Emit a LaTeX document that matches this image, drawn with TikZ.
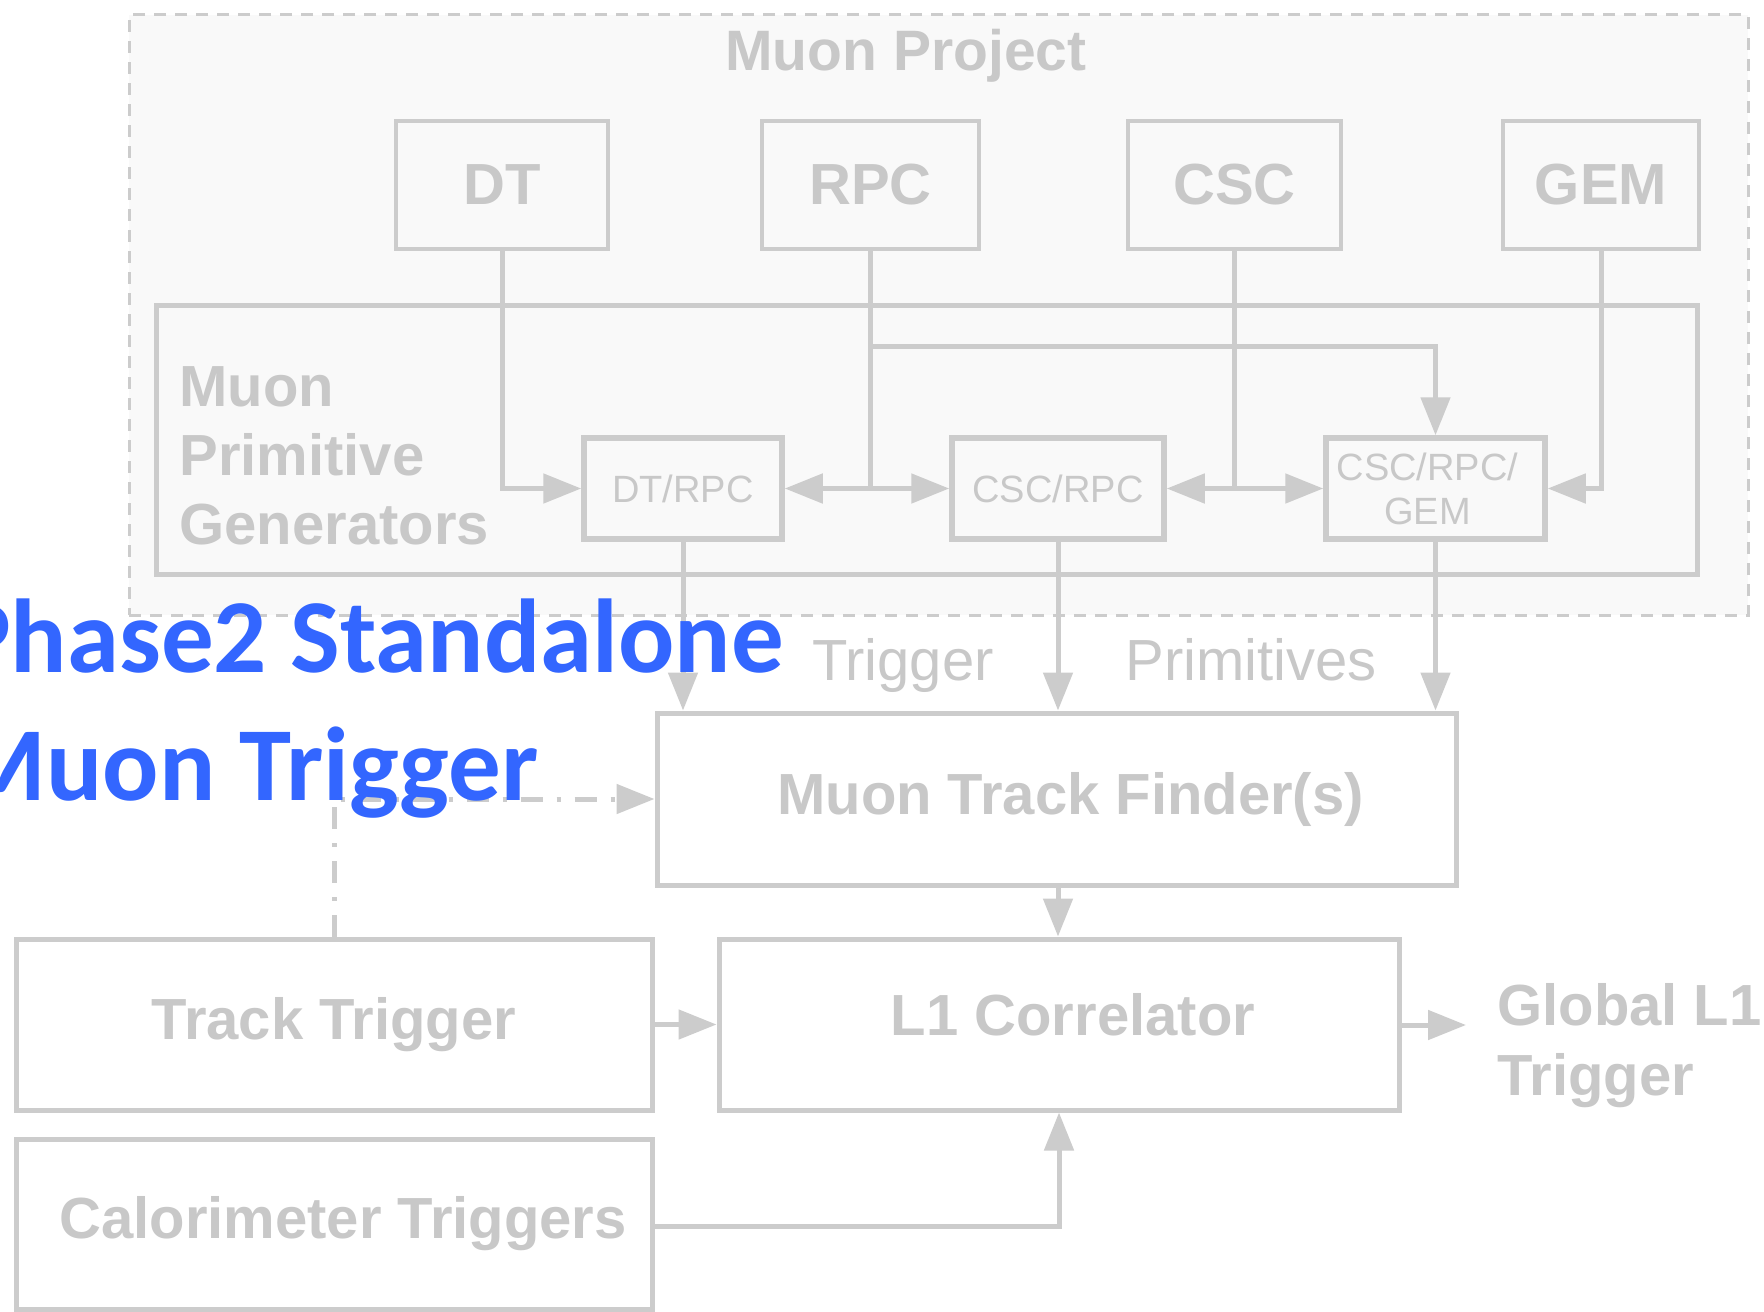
\documentclass[tikz,border=0pt]{standalone}
\usepackage{fontspec}
\setmainfont{Liberation Sans}
\newfontfamily\bluefont{Carlito}
\usetikzlibrary{arrows.meta,calc}
\definecolor{linec}{RGB}{204,204,204}
\definecolor{textc}{RGB}{200,200,200}
\definecolor{projfill}{RGB}{249,249,249}
\definecolor{titleblue}{RGB}{51,102,255}
\begin{document}
\begin{tikzpicture}[x=0.5pt,y=-0.5pt,
 box/.style={draw=linec, line width=2.5pt, inner sep=0pt, text=textc, font=\fontsize{29}{34}\selectfont\bfseries},
 topbox/.style={box, line width=1.75pt, fill=projfill, minimum height=64pt},
 smallbox/.style={box, line width=2.75pt, fill=projfill, minimum height=50.5pt, font=\fontsize{19}{22}\selectfont, align=center},
 conn/.style={draw=linec, line width=2.5pt},
 arr/.style={conn, -{Triangle[length=19pt,width=14.5pt]}},
 lbl/.style={text=textc, inner sep=0pt, font=\fontsize{29}{35}\selectfont\bfseries},
 bluetxt/.style={text=titleblue, inner sep=0pt, font=\bluefont\fontsize{52.5}{62}\selectfont\bfseries}
]
\useasboundingbox[fill=white] (0,0) rectangle (1764,1311);

% Muon project container
\node[draw=linec, line width=1.5pt, dash pattern=on 6pt off 4.5pt, fill=projfill,
      minimum width=809.5pt, minimum height=300pt, inner sep=0pt] (proj) at (938.5,315) {};
\node[lbl, font=\fontsize{28.5}{34}\selectfont\bfseries, anchor=base] (ptitle) at (906,71) {Muon Project};

% detectors
\node[topbox, minimum width=106pt] (dt) at (502,185) {DT};
\node[topbox, minimum width=108.5pt] (rpc) at (870.5,185) {RPC};
\node[topbox, minimum width=106.5pt] (csc) at (1234.5,185) {CSC};
\node[topbox, minimum width=98pt] (gem) at (1601,185) {GEM};

% primitive generators
\node[box, fill=projfill, minimum width=770.5pt, minimum height=134.5pt] (pg) at (926.5,439.5) {};
\node[lbl, font=\fontsize{29}{34.5}\selectfont\bfseries, anchor=base west, align=left] (pgtext) at (179,544) {Muon\\Primitive\\Generators};

\node[smallbox, minimum width=99pt] (dtrpc) at (683,488.5) {DT/RPC};
\node[smallbox, minimum width=106pt] (cscrpc) at (1058,488.5) {CSC/RPC};
\node[smallbox, minimum width=109.5pt] (crg) at (1435.5,488.5) {CSC/RPC/\hspace*{8pt}\\GEM\hspace*{8pt}};

\coordinate (rpcj) at (rpc.south |- dtrpc.west);
\coordinate (rpcb) at ($(rpc.south)+(0,96)$);
\coordinate (cscj) at (csc.south |- cscrpc.east);

\draw[arr] (dt.south) |- (dtrpc.west);
\draw[conn] (rpc.south) -- (rpcj);
\draw[arr] (rpcj) -- (dtrpc.east);
\draw[arr] (rpcj) -- (cscrpc.west);
\draw[arr] (rpcb) -| (crg.north);
\draw[conn] (csc.south) -- (cscj);
\draw[arr] (cscj) -- (cscrpc.east);
\draw[arr] (cscj) -- (crg.west);
\draw[arr] (gem.south) |- (crg.east);

% lower part
\node[box, fill=white, minimum width=399.5pt, minimum height=86pt] (mtf) at (1056.5,799) {\hspace*{14pt}Muon Track Finder(s)};
\node[box, fill=white, minimum width=340pt, minimum height=85.5pt, text depth=10pt] (l1c) at (1059,1024.5) {\hspace*{14pt}L1 Correlator};
\node[box, fill=white, minimum width=318pt, minimum height=85.5pt] (track) at (334,1024.5) {Track Trigger};
\node[box, fill=white, minimum width=318pt, minimum height=85pt] (calo) at (334,1224) {\hspace*{9pt}Calorimeter Triggers};

\node[lbl, font=\fontsize{29}{35}\selectfont, anchor=base] (trig) at (903,680) {Trigger};
\node[lbl, font=\fontsize{29}{35}\selectfont, anchor=base] (prims) at (1251,680) {Primitives};

\draw[arr] (dtrpc.south) -- (dtrpc.south |- mtf.north);
\draw[arr] (cscrpc.south) -- (cscrpc.south |- mtf.north);
\draw[arr] (crg.south) -- (crg.south |- mtf.north);
\draw[arr] (cscrpc.south |- mtf.south) -- (cscrpc.south |- l1c.north);
\draw[arr] (track.east) -- (l1c.west);
\draw[arr] ($(calo.east)+(0,2)$) -| (l1c.south);
\coordinate (gtip) at (1466,1025);
\draw[arr] (l1c.east |- gtip) -- (gtip);
\node[lbl, anchor=base west, align=left] (glob) at (1497,1095) {Global L1\\Trigger};

\draw[arr, dash pattern=on 11pt off 7pt on 2pt off 7pt] (track.north) |- (mtf.west);

% blue overlay title
\node[bluetxt, anchor=base east] (b1) at (784,672) {Phase2 Standalone};
\node[bluetxt, anchor=base east] (b2) at (539,800) {Muon Trigger};
\end{tikzpicture}
\end{document}
